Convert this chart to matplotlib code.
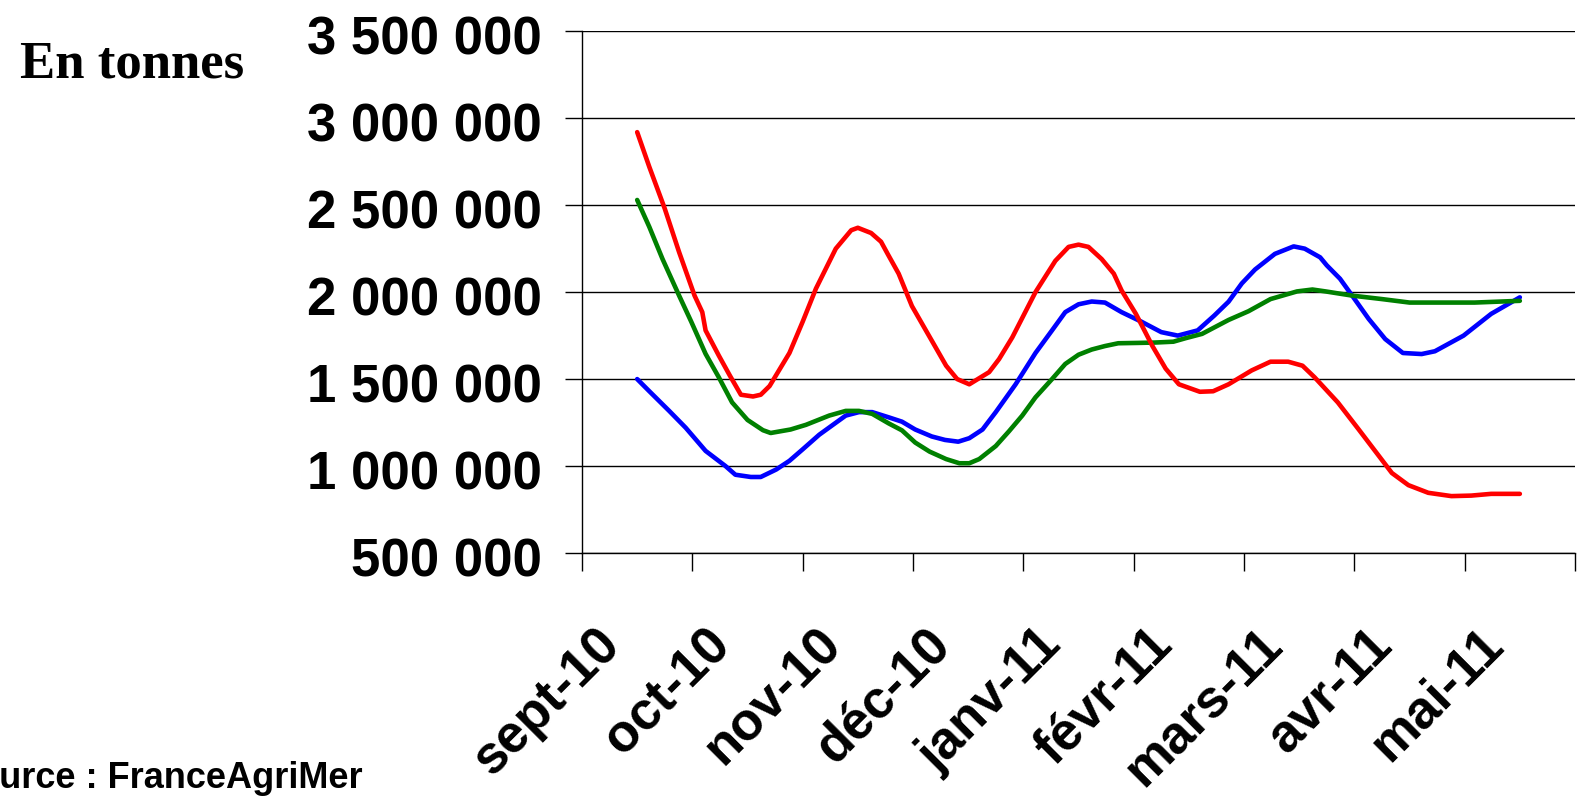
import matplotlib
matplotlib.use("Agg")
import matplotlib.pyplot as plt
from matplotlib.transforms import ScaledTranslation, blended_transform_factory
from matplotlib.ticker import FuncFormatter
import numpy as np

# ---------------- data ----------------
months = ["sept-10", "oct-10", "nov-10", "déc-10", "janv-11",
          "févr-11", "mars-11", "avr-11", "mai-11"]

y_ticks = [500000, 1000000, 1500000, 2000000, 2500000, 3000000, 3500000]

# position in month units (0 = sept-10 ... 8 = mai-11)
red_x = [0.00, 0.11, 0.25, 0.38, 0.52, 0.59, 0.62, 0.74, 0.84, 0.94, 1.05, 1.12,
         1.20, 1.38, 1.50, 1.62, 1.80, 1.94, 2.00, 2.12, 2.21, 2.27, 2.37, 2.49,
         2.68, 2.80, 2.90, 3.01, 3.19, 3.28, 3.40, 3.61, 3.79, 3.91, 4.00, 4.09,
         4.21, 4.32, 4.39, 4.52, 4.67, 4.79, 4.91, 5.10, 5.22, 5.36, 5.57, 5.74,
         5.90, 6.03, 6.14, 6.35, 6.54, 6.84, 6.99, 7.17, 7.38, 7.56, 7.74, 8.00]
red_y = [2920000, 2720000, 2480000, 2230000, 1980000, 1885000, 1780000, 1635000,
         1520000, 1410000, 1400000, 1410000, 1460000, 1650000, 1830000, 2020000,
         2250000, 2356000, 2370000, 2340000, 2290000, 2220000, 2106000, 1920000,
         1710000, 1577000, 1500000, 1470000, 1540000, 1615000, 1740000, 2000000,
         2180000, 2260000, 2273000, 2260000, 2190000, 2106000, 2010000, 1875000,
         1690000, 1560000, 1470000, 1427000, 1430000, 1470000, 1550000, 1600000,
         1600000, 1577000, 1510000, 1366000, 1210000, 960000, 890000, 846000,
         827000, 830000, 840000, 840000]

blue_x = [0.00, 0.11, 0.29, 0.44, 0.62, 0.80, 0.89, 1.03, 1.12, 1.26, 1.38, 1.50,
          1.65, 1.89, 2.01, 2.13, 2.28, 2.40, 2.52, 2.67, 2.79, 2.91, 3.01, 3.13,
          3.25, 3.43, 3.61, 3.76, 3.88, 4.00, 4.12, 4.24, 4.39, 4.57, 4.75, 4.90,
          5.08, 5.23, 5.36, 5.48, 5.60, 5.78, 5.95, 6.05, 6.19, 6.25, 6.37, 6.48,
          6.63, 6.78, 6.94, 7.11, 7.23, 7.49, 7.74, 8.00]
blue_y = [1500000, 1430000, 1317000, 1220000, 1087000, 1000000, 950000, 937000,
          937000, 980000, 1030000, 1096000, 1180000, 1290000, 1310000, 1310000,
          1280000, 1255000, 1210000, 1170000, 1150000, 1140000, 1160000, 1210000,
          1310000, 1470000, 1650000, 1780000, 1885000, 1930000, 1946000, 1940000,
          1885000, 1830000, 1770000, 1750000, 1780000, 1865000, 1945000, 2050000,
          2130000, 2220000, 2263000, 2250000, 2200000, 2154000, 2077000, 1980000,
          1846000, 1730000, 1650000, 1644000, 1660000, 1750000, 1875000, 1970000]

green_x = [0.00, 0.11, 0.23, 0.38, 0.49, 0.62, 0.74, 0.86, 1.00, 1.14, 1.21, 1.39,
           1.53, 1.74, 1.89, 2.01, 2.13, 2.28, 2.40, 2.52, 2.65, 2.80, 2.92, 3.01,
           3.10, 3.25, 3.37, 3.49, 3.61, 3.76, 3.88, 4.00, 4.12, 4.24, 4.36, 4.54,
           4.69, 4.86, 4.97, 5.12, 5.27, 5.36, 5.54, 5.74, 5.98, 6.12, 6.24, 6.48,
           6.75, 7.00, 7.29, 7.59, 8.00]
green_y = [2530000, 2375000, 2190000, 1980000, 1830000, 1645000, 1510000, 1366000,
           1265000, 1206000, 1190000, 1210000, 1237000, 1290000, 1317000, 1317000,
           1300000, 1245000, 1205000, 1135000, 1083000, 1040000, 1016000, 1016000,
           1040000, 1115000, 1200000, 1290000, 1395000, 1500000, 1587000, 1640000,
           1670000, 1690000, 1706000, 1708000, 1710000, 1715000, 1735000, 1760000,
           1810000, 1840000, 1890000, 1960000, 2004000, 2015000, 2004000, 1980000,
           1960000, 1940000, 1940000, 1940000, 1950000]

# ---------------- figure ----------------
SANS = ["Liberation Sans", "DejaVu Sans"]
fig = plt.figure(figsize=(15.85, 8.02), dpi=100)
ax = fig.add_axes([0.3672, 0.3105, 0.6265, 0.6505])

LW = 3.3
for xs, ys, col, z in [(blue_x, blue_y, "#0000FF", 3),
                       (green_x, green_y, "#008000", 4),
                       (red_x, red_y, "#FF0000", 5)]:
    ax.plot(xs, ys, color=col, lw=LW, solid_joinstyle="round",
            solid_capstyle="round", zorder=z)

ax.set_xlim(-0.5, len(months) - 0.5)
ax.set_ylim(y_ticks[0], y_ticks[-1])

# y axis
ax.set_yticks(y_ticks)
ax.yaxis.set_major_formatter(FuncFormatter(
    lambda v, p: f"{v:,.0f}".replace(",", " ")))
ax.tick_params(axis="y", length=12, width=1.0, pad=17, colors="black")
for lbl in ax.get_yticklabels():
    lbl.set_fontsize(38)
    lbl.set_fontweight("bold")
    lbl.set_family(SANS)
    lbl.set_transform(lbl.get_transform() +
                      ScaledTranslation(0, -4 / 100, fig.dpi_scale_trans))
ax.yaxis.grid(True, color="black", lw=1.0)
ax.set_axisbelow(True)

# x axis: ticks at month boundaries, labels at month centres
ax.set_xticks(np.arange(-0.5, len(months), 1.0))
ax.set_xticklabels([])
ax.tick_params(axis="x", length=13, width=1.0, direction="out", colors="black")

trans = blended_transform_factory(ax.transData, ax.transAxes)
off = ScaledTranslation(-25 / 100, -84 / 100, fig.dpi_scale_trans)
for i, m in enumerate(months):
    ax.text(i, 0, m, transform=trans + off, rotation=45, rotation_mode="anchor",
            ha="right", va="center", fontsize=38, fontweight="bold",
            family=SANS, clip_on=False)

for s in ["top", "right"]:
    ax.spines[s].set_visible(False)
for s in ["left", "bottom"]:
    ax.spines[s].set_linewidth(1.0)
    ax.spines[s].set_color("black")

fig.text(20 / 1585, 1 - 78 / 802, "En tonnes", fontsize=38, fontweight="bold",
         family=["Liberation Serif", "DejaVu Serif"], ha="left", va="baseline")
fig.text(-47 / 1585, 1 - 788 / 802, "Source : FranceAgriMer", fontsize=26,
         fontweight="bold", family=SANS, ha="left", va="baseline")

fig.savefig("out.png", dpi=100)
